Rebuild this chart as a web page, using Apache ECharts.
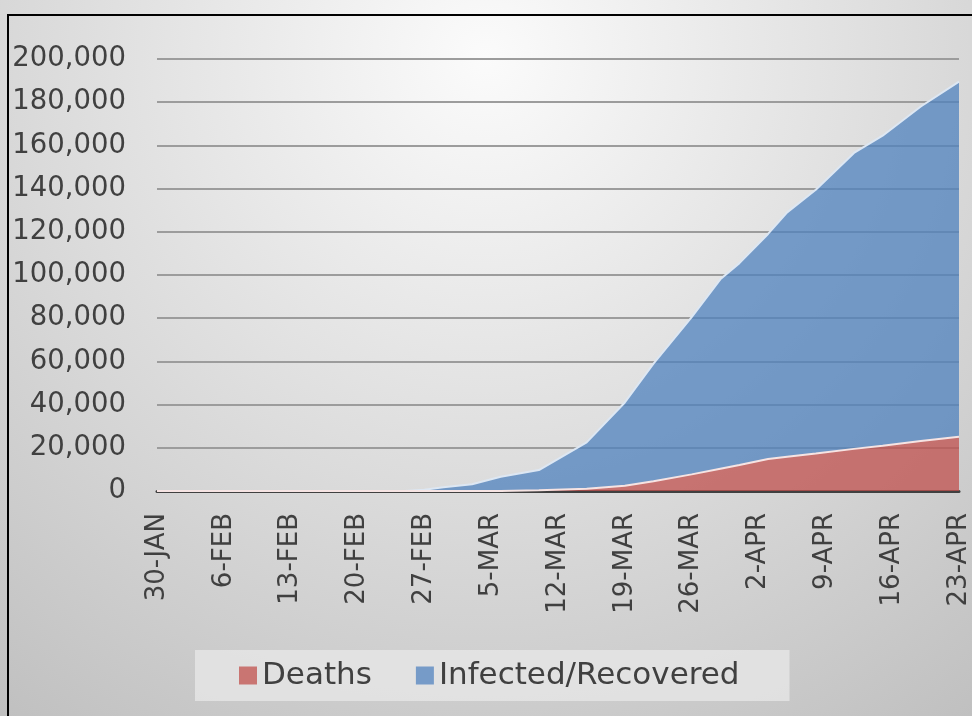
<!DOCTYPE html>
<html>
<head>
<meta charset="utf-8">
<script src="https://cdn.jsdelivr.net/npm/echarts@6/dist/echarts.min.js"></script>
<style>
html,body{margin:0;padding:0;background:#fff;}
#chart{width:972px;height:716px;}
</style>
</head>
<body>
<div id="chart"></div>
<script>
// Day index counted from 30-JAN-2020 (read points)
const days = [0, 26, 28, 30, 33, 36, 40, 45, 49, 52, 56, 59, 61, 64, 66, 69, 73, 76, 80, 84];
const deaths = [0, 0, 0, 0, 0, 0, 300, 1000, 2400, 4500, 7700, 10300, 12000, 14800, 15900, 17400, 19500, 21000, 23100, 25100];
const infectedRecovered = [0, 0, 600, 1700, 3100, 6600, 9400, 21500, 38600, 54500, 72800, 87700, 93500, 104200, 113100, 122100, 137000, 143500, 154900, 164400];
const tickLabels = ['30-JAN', '6-FEB', '13-FEB', '20-FEB', '27-FEB', '5-MAR', '12-MAR', '19-MAR', '26-MAR', '2-APR', '9-APR', '16-APR', '23-APR'];
const seriesNames = ['Deaths', 'Infected/Recovered'];

const DAY = 86400000;
const START = Date.UTC(2020, 0, 30);
const LAST_DAY = 84;
const pairs = (vals) => days.map((d, i) => [START + d * DAY, vals[i]]);

const chart = echarts.init(document.getElementById('chart'), null, {renderer: 'canvas'});
const FONT = 'DejaVu Sans';

chart.setOption({
  backgroundColor: new echarts.graphic.RadialGradient(0.5, 0.08, 1.2, [
    {offset: 0, color: '#fbfbfb'},
    {offset: 1, color: '#bdbdbd'}
  ]),
  animation: false,
  textStyle: {fontFamily: FONT},
  grid: {left: 157, right: 11, top: 59, bottom: 225, containLabel: false},
  legend: {
    data: seriesNames,
    left: 195, top: 650,
    padding: [10, 50, 10, 44],
    itemGap: 44,
    itemWidth: 18, itemHeight: 18,
    icon: 'rect',
    backgroundColor: 'rgba(232,232,232,0.75)',
    textStyle: {fontSize: 31, color: '#404040', fontFamily: FONT}
  },
  xAxis: [
    {
      // label axis: days since 30-JAN, a tick every week
      type: 'value',
      position: 'bottom',
      min: 0, max: LAST_DAY, interval: 7,
      axisLine: {show: true, onZero: false, lineStyle: {color: '#404040', width: 3}},
      axisTick: {show: false},
      splitLine: {show: false},
      axisLabel: {
        rotate: 90,
        margin: 22,
        fontSize: 26,
        color: '#404040',
        fontFamily: FONT,
        formatter: (v) => tickLabels[Math.round(v / 7)] || ''
      }
    },
    {
      // data axis (same span, as dates)
      type: 'time',
      position: 'top',
      show: false,
      min: START, max: START + LAST_DAY * DAY
    }
  ],
  yAxis: {
    type: 'value',
    min: 0, max: 200000, interval: 20000,
    axisLine: {show: false},
    axisTick: {show: false},
    splitLine: {show: true, lineStyle: {color: '#9c9c9c', width: 2}},
    axisLabel: {
      margin: 31,
      fontSize: 27.5,
      color: '#404040',
      fontFamily: FONT,
      formatter: (v) => v.toLocaleString('en-US')
    }
  },
  series: [
    {
      name: seriesNames[0],
      type: 'line',
      xAxisIndex: 1,
      stack: 'total',
      data: pairs(deaths),
      showSymbol: false,
      itemStyle: {color: '#c97572'},
      lineStyle: {color: '#f6e4e3', width: 2},
      areaStyle: {color: 'rgba(192,80,77,0.75)', opacity: 1},
      z: 3
    },
    {
      name: seriesNames[1],
      type: 'line',
      xAxisIndex: 1,
      stack: 'total',
      data: pairs(infectedRecovered),
      showSymbol: false,
      itemStyle: {color: '#769bc8'},
      lineStyle: {color: '#dde7f3', width: 2},
      areaStyle: {color: 'rgba(79,129,189,0.75)', opacity: 1},
      z: 2
    }
  ],
  graphic: [
    {type: 'line', shape: {x1: 8, y1: 15, x2: 8, y2: 716}, style: {stroke: '#000', lineWidth: 2}, z: 100},
    {type: 'line', shape: {x1: 7, y1: 15, x2: 972, y2: 15}, style: {stroke: '#000', lineWidth: 2}, z: 100}
  ]
});
</script>
</body>
</html>
